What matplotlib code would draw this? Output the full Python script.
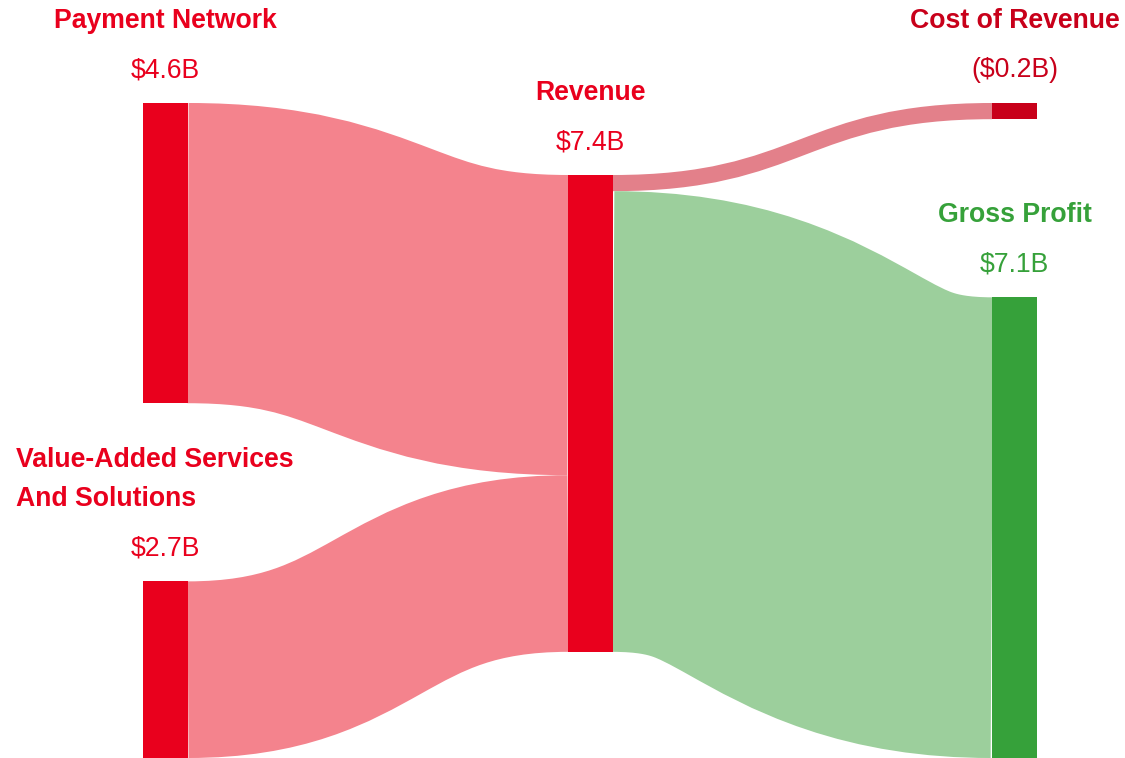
import matplotlib.pyplot as plt
from matplotlib.patches import Rectangle, PathPatch
from matplotlib.path import Path

plt.rcParams["font.family"] = ["Liberation Sans", "DejaVu Sans"]

# values in $B
payment_network = 4.64
value_added = 2.73
cost_of_revenue = 0.25
gross_profit = 7.12
revenue = payment_network + value_added

RED = "#E9001D"
DARK_RED = "#C8001A"
GREEN = "#36A13A"
PINK_LINK = "#F4838D"
COST_LINK = "#E3808A"
GREEN_LINK = "#9CCF9C"

W, H = 1125, 758
DPI = 100
SCALE = 64.7  # px per $B
NODE_W = 45
COL_X = [143, 568, 992]
FS = 19.2


def fmt(v, neg=False):
    s = f"${v:.1f}B"
    return f"({s})" if neg else s


def link(ax, x0, y0, x1, y1, value, color):
    # sankey link drawn as a thick stroke along a horizontal bezier
    xm = (x0 + x1) / 2
    path = Path([(x0, y0), (xm, y0), (xm, y1), (x1, y1)],
                [Path.MOVETO, Path.CURVE4, Path.CURVE4, Path.CURVE4])
    ax.add_patch(PathPatch(path, facecolor="none", edgecolor=color,
                           lw=value * SCALE * 72 / DPI, capstyle="butt"))


def node(ax, x, top, value, color):
    h = value * SCALE
    ax.add_patch(Rectangle((x, top), NODE_W, h, facecolor=color, edgecolor="none"))


def labels(ax, x, top, lines, value_text, color, ha="center"):
    cx = x + NODE_W / 2
    ax.text(cx, top - 26, value_text, color=color, fontsize=FS,
            ha="center", va="baseline")
    for i, line in enumerate(reversed(lines)):
        tx = cx if ha == "center" else 16
        ax.text(tx, top - 75 - 39 * i, line, color=color, fontsize=FS,
                fontweight="bold", ha=ha, va="baseline")


fig = plt.figure(figsize=(W / DPI, H / DPI), dpi=DPI)
ax = fig.add_axes([0, 0, 1, 1])
ax.set_xlim(0, W)
ax.set_ylim(H, 0)
ax.axis("off")

# node positions
pn_top = 103
va_top = H - value_added * SCALE
rev_top = 175
cost_top = 103
gp_top = H - gross_profit * SCALE

# links (centerlines)
x_l = COL_X[0] + NODE_W
x_m0, x_m1 = COL_X[1], COL_X[1] + NODE_W
x_r = COL_X[2]
half = lambda v: v * SCALE / 2
link(ax, x_l, pn_top + half(payment_network),
     x_m0, rev_top + half(payment_network), payment_network, PINK_LINK)
link(ax, x_l, va_top + half(value_added),
     x_m0, rev_top + payment_network * SCALE + half(value_added), value_added, PINK_LINK)
link(ax, x_m1, rev_top + half(cost_of_revenue),
     x_r, cost_top + half(cost_of_revenue), cost_of_revenue, COST_LINK)
link(ax, x_m1, rev_top + cost_of_revenue * SCALE + half(gross_profit),
     x_r, gp_top + half(gross_profit), gross_profit, GREEN_LINK)

# nodes
node(ax, COL_X[0], pn_top, payment_network, RED)
node(ax, COL_X[0], va_top, value_added, RED)
node(ax, COL_X[1], rev_top, revenue, RED)
node(ax, COL_X[2], cost_top, cost_of_revenue, DARK_RED)
node(ax, COL_X[2], gp_top, gross_profit, GREEN)

labels(ax, COL_X[0], pn_top, ["Payment Network"], fmt(payment_network), RED)
labels(ax, COL_X[0], va_top, ["Value-Added Services", "And Solutions"],
       fmt(value_added), RED, ha="left")
labels(ax, COL_X[1], rev_top, ["Revenue"], fmt(revenue), RED)
labels(ax, COL_X[2], cost_top, ["Cost of Revenue"], fmt(cost_of_revenue, neg=True), DARK_RED)
labels(ax, COL_X[2], gp_top, ["Gross Profit"], fmt(gross_profit), GREEN)

fig.savefig("out.png", dpi=DPI)
